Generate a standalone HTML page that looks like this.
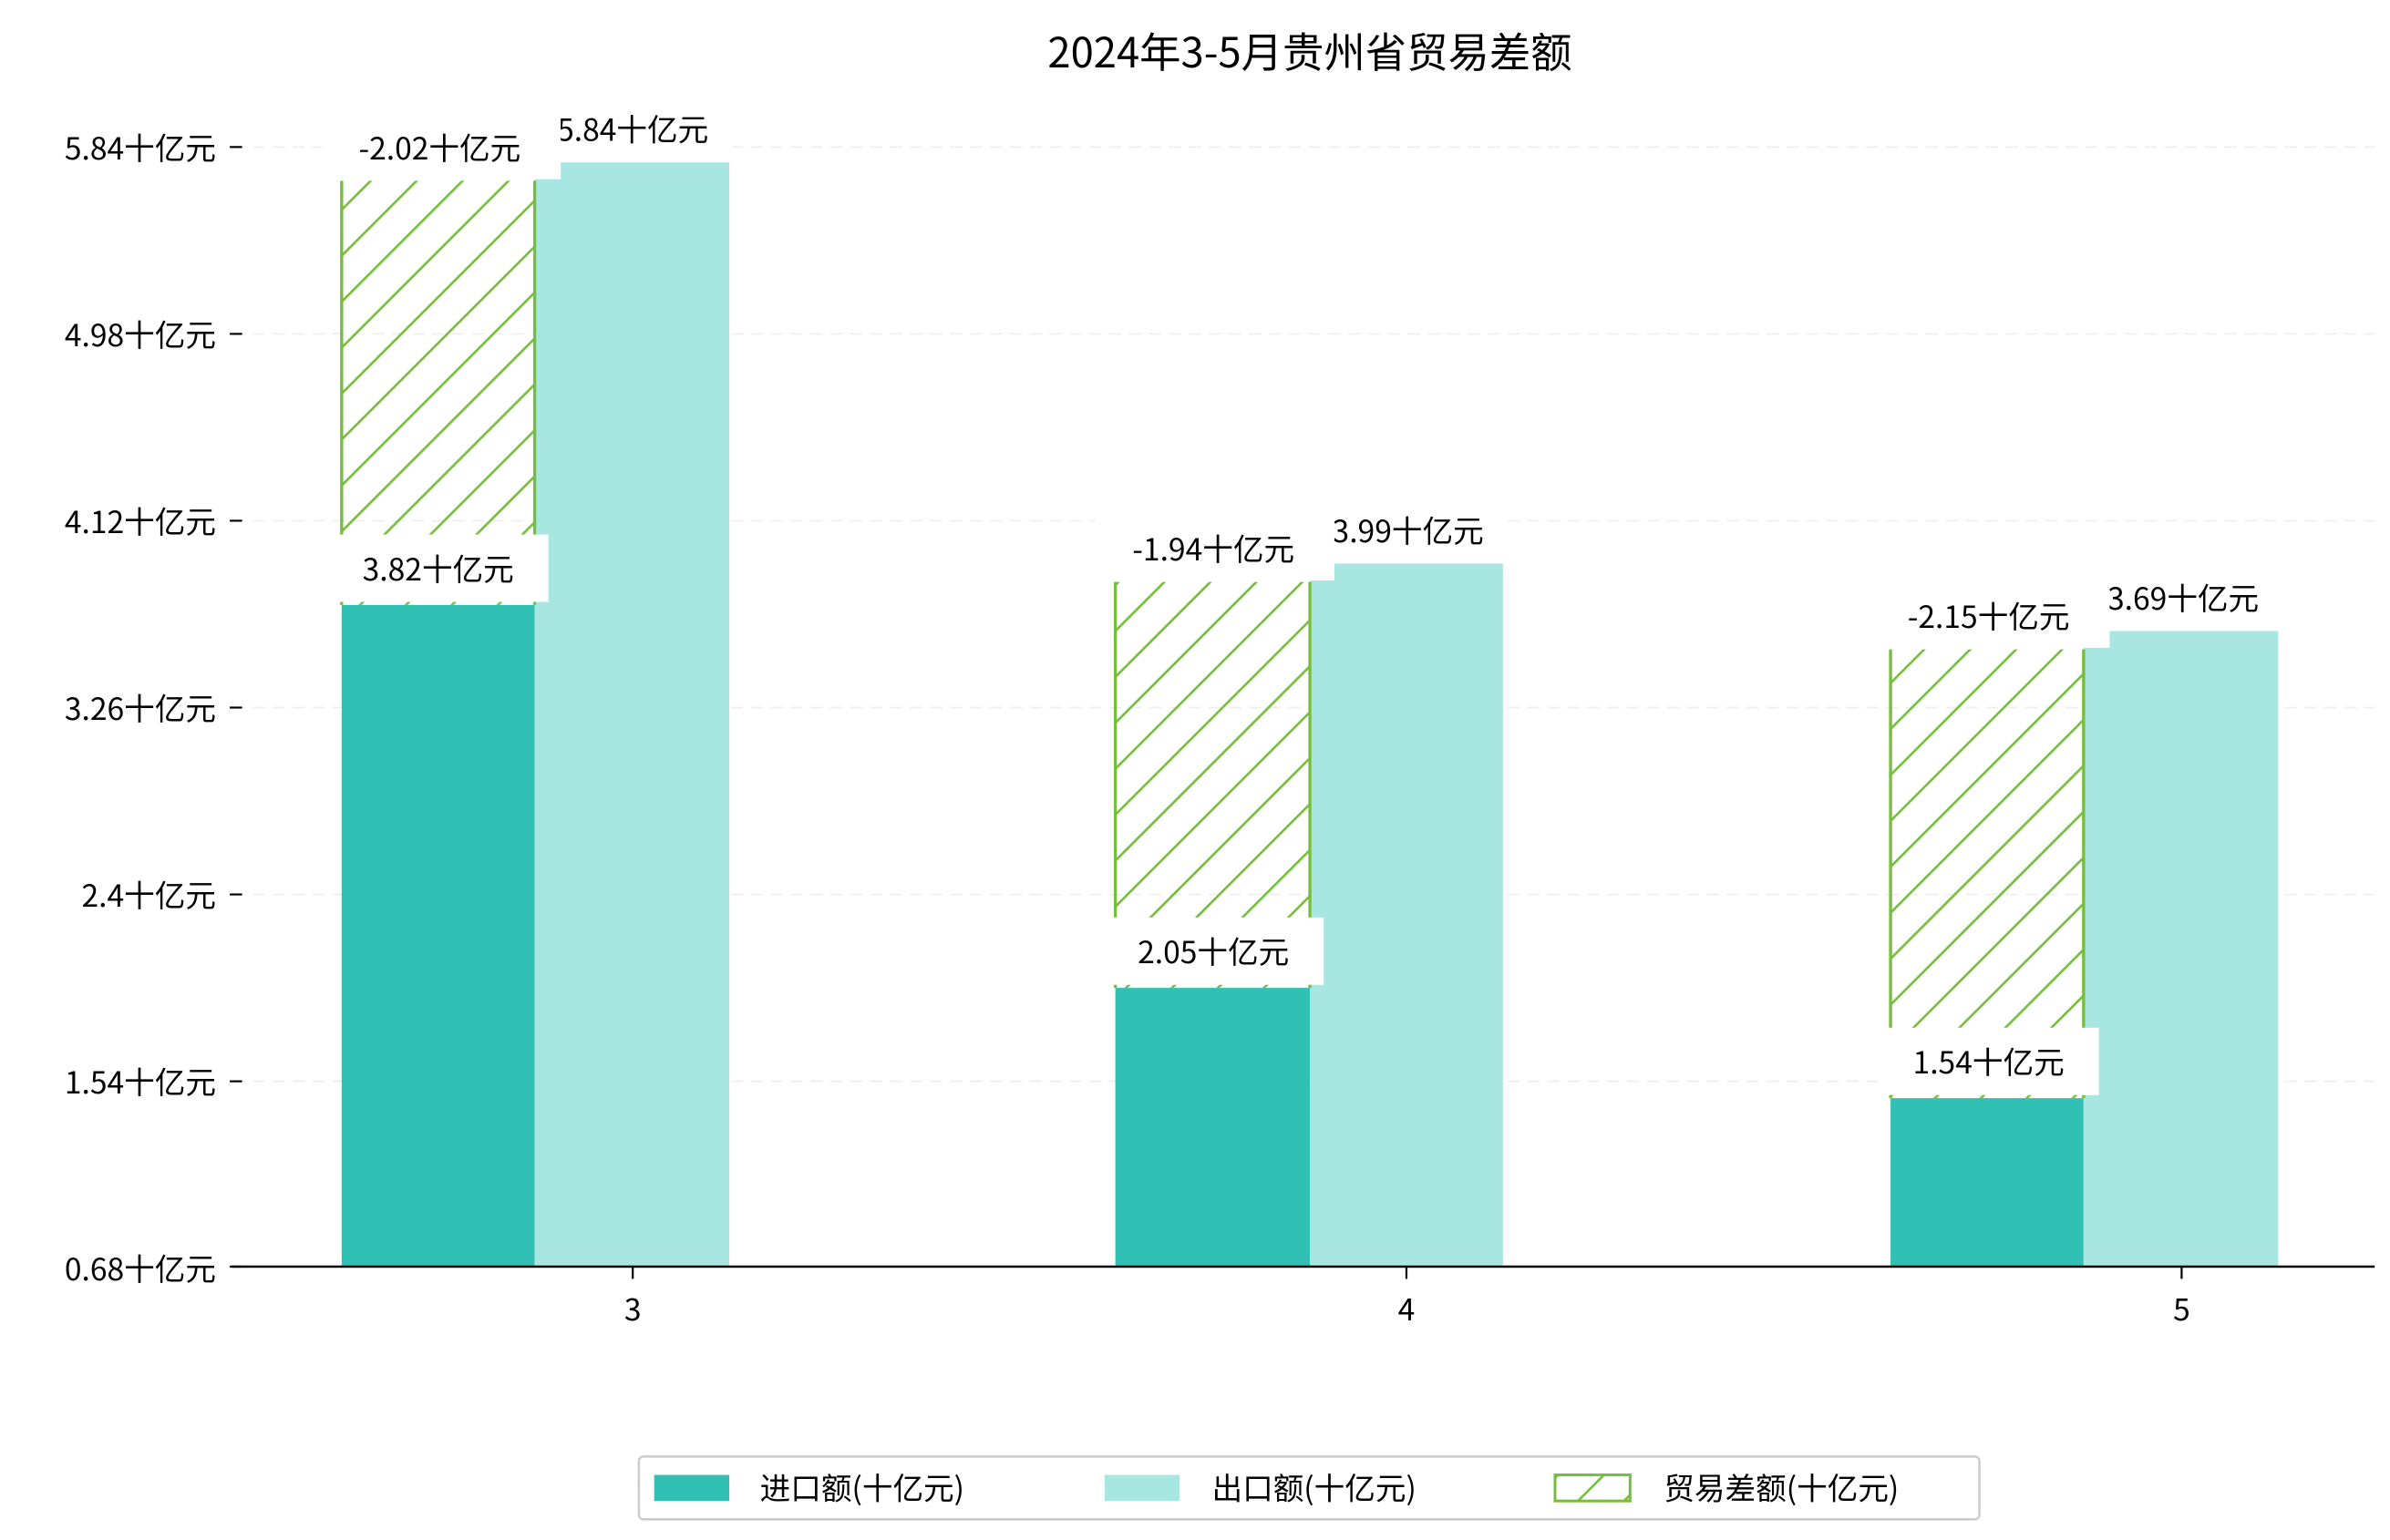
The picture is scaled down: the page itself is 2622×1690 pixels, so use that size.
<!DOCTYPE html>
<html><head><meta charset="utf-8"><style>
html,body{margin:0;padding:0;background:#fff;}
svg{display:block;}
text{font-family:"WenQuanYi Zen Hei","Noto Sans CJK SC",sans-serif;fill:#000;}
</style></head><body>
<svg width="2622" height="1690" viewBox="0 0 1560 1005.5" xmlns="http://www.w3.org/2000/svg">
<defs>
<pattern id="h" patternUnits="userSpaceOnUse" width="30" height="30">
<path d="M-5,5 L5,-5 M0,30 L30,0 M25,35 L35,25" stroke="#77bd3e" stroke-width="1.6"/>
</pattern>
</defs>
<rect width="1560" height="1005.5" fill="#fff"/>
<text x="855" y="44" font-size="27" text-anchor="middle">2024年3-5月贵州省贸易差额</text>
<g stroke="#eeeeee" stroke-width="1" stroke-dasharray="8,5">
<line x1="152" x2="1550" y1="96" y2="96"/><line x1="152" x2="1550" y1="218" y2="218"/>
<line x1="152" x2="1550" y1="340" y2="340"/><line x1="152" x2="1550" y1="462" y2="462"/>
<line x1="152" x2="1550" y1="584" y2="584"/><line x1="152" x2="1550" y1="706" y2="706"/>
</g>
<g font-size="20" text-anchor="end">
<text x="141" y="104">5.84十亿元</text><text x="141" y="226">4.98十亿元</text>
<text x="141" y="348">4.12十亿元</text><text x="141" y="470">3.26十亿元</text>
<text x="141" y="592">2.4十亿元</text><text x="141" y="714">1.54十亿元</text>
<text x="141" y="836">0.68十亿元</text>
</g>
<g stroke="#000" stroke-width="1.3">
<line x1="150" x2="158" y1="96" y2="96"/><line x1="150" x2="158" y1="218" y2="218"/>
<line x1="150" x2="158" y1="340" y2="340"/><line x1="150" x2="158" y1="462" y2="462"/>
<line x1="150" x2="158" y1="584" y2="584"/><line x1="150" x2="158" y1="706" y2="706"/>
<line x1="150" x2="158" y1="827" y2="827"/>
</g>
<rect x="223" y="395" width="126" height="432" fill="#31c1b4"/>
<rect x="349" y="106" width="127" height="721" fill="#a8e7e1"/>
<rect x="728" y="645" width="127" height="182" fill="#31c1b4"/>
<rect x="855" y="368" width="126" height="459" fill="#a8e7e1"/>
<rect x="1234" y="717" width="126" height="110" fill="#31c1b4"/>
<rect x="1360" y="412" width="127" height="415" fill="#a8e7e1"/>
<rect x="223" y="118" width="126" height="277" fill="url(#h)"/>
<rect x="728" y="380" width="127" height="265" fill="url(#h)"/>
<rect x="1234" y="424" width="126" height="293" fill="url(#h)"/>
<g stroke="#77bd3e" stroke-width="2">
<line x1="223" x2="223" y1="118" y2="395"/><line x1="349" x2="349" y1="118" y2="395"/>
<line x1="728" x2="728" y1="380" y2="645"/><line x1="855" x2="855" y1="380" y2="645"/>
<line x1="1234" x2="1234" y1="424" y2="717"/><line x1="1360" x2="1360" y1="424" y2="717"/>
</g>
<g font-size="20" text-anchor="middle">
<rect x="215" y="349" width="143" height="44" fill="#fff"/><text x="286" y="379">3.82十亿元</text>
<rect x="720" y="599" width="144" height="44" fill="#fff"/><text x="792" y="629">2.05十亿元</text>
<rect x="1226" y="671" width="144" height="44" fill="#fff"/><text x="1298" y="701">1.54十亿元</text>
<rect x="350" y="62" width="128" height="43" fill="#fff"/><text x="413" y="92">5.84十亿元</text>
<rect x="856" y="324" width="128" height="43" fill="#fff"/><text x="919" y="354">3.99十亿元</text>
<rect x="1362" y="368" width="128" height="43" fill="#fff"/><text x="1425" y="398">3.69十亿元</text>
<rect x="210" y="75" width="156" height="42" fill="#fff"/><text x="287" y="104">-2.02十亿元</text>
<rect x="715" y="337" width="156" height="42" fill="#fff"/><text x="792" y="366">-1.94十亿元</text>
<rect x="1221" y="381" width="156" height="42" fill="#fff"/><text x="1298" y="410">-2.15十亿元</text>
</g>
<line x1="151" x2="1550" y1="827" y2="827" stroke="#000" stroke-width="1.5"/>
<g stroke="#000" stroke-width="1.3">
<line x1="413" x2="413" y1="827" y2="835"/><line x1="918" x2="918" y1="827" y2="835"/><line x1="1424" x2="1424" y1="827" y2="835"/>
</g>
<g font-size="20" text-anchor="middle">
<text x="413" y="862">3</text><text x="918" y="862">4</text><text x="1424" y="862">5</text>
</g>
<rect x="417" y="951" width="875" height="41" rx="3" fill="#fff" stroke="#cccccc" stroke-width="1.5"/>
<rect x="427" y="963" width="49" height="17" fill="#31c1b4"/>
<text x="496" y="979" font-size="20">进口额(十亿元)</text>
<rect x="721" y="963" width="49" height="17" fill="#a8e7e1"/>
<text x="791" y="979" font-size="20">出口额(十亿元)</text>
<rect x="1015" y="963" width="49" height="17" fill="url(#h)" stroke="#77bd3e" stroke-width="1.8"/>
<text x="1086" y="979" font-size="20">贸易差额(十亿元)</text>
</svg>
</body></html>
